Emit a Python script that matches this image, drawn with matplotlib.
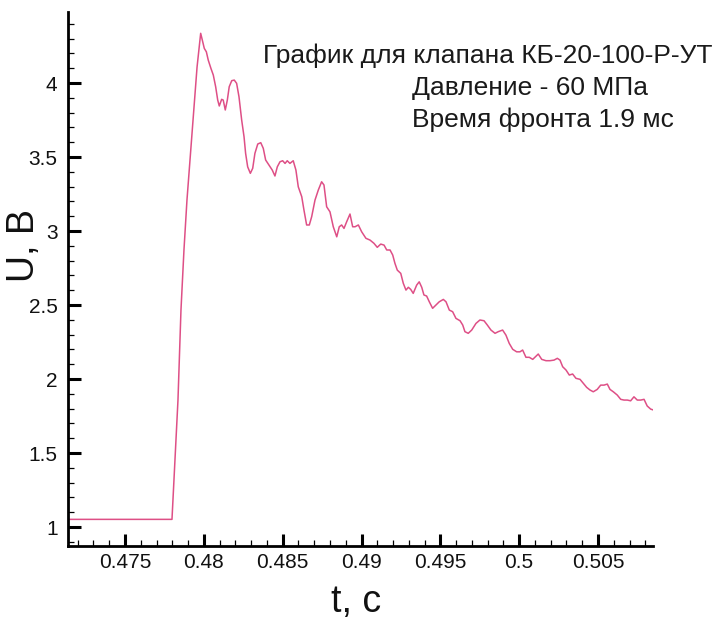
import matplotlib
matplotlib.use("Agg")
import matplotlib.pyplot as plt
from matplotlib.ticker import MultipleLocator, FuncFormatter

plt.rcParams['font.family'] = ['Liberation Sans', 'DejaVu Sans']

# --- data ---
t = [0.47139, 0.47798, 0.47817, 0.47836, 0.47855, 0.47874, 0.47893, 0.47925, 0.47957,
     0.47980, 0.47990, 0.48003, 0.48016, 0.48028, 0.48045, 0.48060, 0.48075, 0.48088,
     0.48098, 0.48113, 0.48123, 0.48136, 0.48149, 0.48161, 0.48177, 0.48193, 0.48208,
     0.48223, 0.48240, 0.48255, 0.48265, 0.48278, 0.48295, 0.48310, 0.48324, 0.48342,
     0.48361, 0.48377, 0.48392, 0.48413, 0.48434, 0.48451, 0.48466, 0.48483, 0.48500,
     0.48515, 0.48529, 0.48546, 0.48567, 0.48584, 0.48599, 0.48621, 0.48635, 0.48652,
     0.48669, 0.48684, 0.48705, 0.48726, 0.48747, 0.48762, 0.48779, 0.48800, 0.48821,
     0.48843, 0.48859, 0.48874, 0.48889, 0.48906, 0.48927, 0.48944, 0.48959, 0.48980,
     0.49001, 0.49028, 0.49054, 0.49079, 0.49100, 0.49122, 0.49143, 0.49160, 0.49181,
     0.49198, 0.49212, 0.49227, 0.49249, 0.49265, 0.49282, 0.49297, 0.49312, 0.49328,
     0.49350, 0.49366, 0.49382, 0.49396, 0.49413, 0.49430, 0.49451, 0.49472, 0.49493,
     0.49519, 0.49536, 0.49557, 0.49578, 0.49599, 0.49625, 0.49642, 0.49656, 0.49677,
     0.49699, 0.49726, 0.49751, 0.49777, 0.49798, 0.49821, 0.49847, 0.49867, 0.49895,
     0.49916, 0.49937, 0.49959, 0.49984, 0.50005, 0.50022, 0.50043, 0.50064, 0.50086,
     0.50100, 0.50121, 0.50143, 0.50170, 0.50195, 0.50221, 0.50242, 0.50259, 0.50276,
     0.50297, 0.50318, 0.50339, 0.50360, 0.50386, 0.50407, 0.50428, 0.50449, 0.50470,
     0.50495, 0.50517, 0.50538, 0.50559, 0.50576, 0.50597, 0.50622, 0.50644, 0.50665,
     0.50686, 0.50707, 0.50728, 0.50749, 0.50771, 0.50792, 0.50812, 0.50834, 0.50851]
U = [1.052, 1.052, 1.453, 1.858, 2.466, 2.872, 3.209, 3.662, 4.108,
     4.336, 4.291, 4.234, 4.211, 4.155, 4.099, 4.054, 3.975, 3.885,
     3.845, 3.890, 3.885, 3.818, 3.885, 3.975, 4.016, 4.020, 3.998,
     3.907, 3.750, 3.637, 3.525, 3.434, 3.390, 3.424, 3.525, 3.588,
     3.597, 3.559, 3.480, 3.446, 3.412, 3.372, 3.434, 3.468, 3.475,
     3.457, 3.475, 3.457, 3.475, 3.412, 3.299, 3.232, 3.142, 3.041,
     3.041, 3.097, 3.209, 3.277, 3.333, 3.311, 3.164, 3.130, 3.029,
     2.961, 3.029, 3.041, 3.018, 3.063, 3.115, 3.029, 3.029, 3.041,
     2.995, 2.951, 2.939, 2.917, 2.890, 2.912, 2.905, 2.872, 2.872,
     2.838, 2.782, 2.736, 2.714, 2.647, 2.601, 2.620, 2.606, 2.579,
     2.635, 2.657, 2.620, 2.568, 2.561, 2.522, 2.478, 2.500, 2.522,
     2.538, 2.522, 2.466, 2.455, 2.410, 2.394, 2.365, 2.320, 2.309,
     2.331, 2.376, 2.399, 2.394, 2.365, 2.331, 2.309, 2.320, 2.331,
     2.297, 2.241, 2.201, 2.184, 2.184, 2.196, 2.147, 2.147, 2.133,
     2.147, 2.169, 2.133, 2.124, 2.124, 2.128, 2.140, 2.128, 2.083,
     2.061, 2.027, 2.034, 2.005, 1.998, 1.971, 1.944, 1.926, 1.914,
     1.930, 1.959, 1.959, 1.966, 1.930, 1.914, 1.892, 1.863, 1.858,
     1.858, 1.853, 1.880, 1.858, 1.858, 1.863, 1.818, 1.797, 1.791]

x_ticks = [0.475, 0.48, 0.485, 0.49, 0.495, 0.5, 0.505]
y_ticks = [1, 1.5, 2, 2.5, 3, 3.5, 4]
x_label = "t, c"
y_label = "U, B"
info_lines = ["График для клапана КБ-20-100-Р-УТ",
              "Давление - 60 МПа",
              "Время фронта 1.9 мс"]

# --- figure ---
fig = plt.figure(figsize=(7.19, 6.19), dpi=100)
ax = fig.add_axes([68/719, 1-546/619, (653-68)/719, (546-12)/619])

ax.plot(t, U, color='#de4f86', linewidth=1.1)

ax.set_xlim(0.471385, 0.508488)
ax.set_ylim(0.872, 4.48)

for s in ['top', 'right']:
    ax.spines[s].set_visible(False)
for s in ['left', 'bottom']:
    ax.spines[s].set_linewidth(2.0)
    ax.spines[s].set_color('black')

ax.set_xticks(x_ticks)
ax.set_yticks(y_ticks)
ax.xaxis.set_minor_locator(MultipleLocator(0.001))
ax.yaxis.set_minor_locator(MultipleLocator(0.1))
fmt = FuncFormatter(lambda v, p: f"{v:g}")
ax.xaxis.set_major_formatter(fmt)
ax.yaxis.set_major_formatter(fmt)

ax.tick_params(which='major', direction='in', length=9, width=2.2, labelsize=15,
               color='black', labelcolor='#111111')
ax.tick_params(which='minor', direction='in', length=4.5, width=0.9, color='black')
ax.tick_params(axis='x', which='major', pad=5)
ax.tick_params(axis='y', which='major', pad=7.5)

ax.set_xlabel(x_label, fontsize=27, color='#111111')
ax.set_ylabel(y_label, fontsize=27, color='#111111')
ax.xaxis.set_label_coords(0.492, -0.071)
ax.yaxis.set_label_coords(-0.045, 0.563)

fig.text(263/719, 1-63/619, info_lines[0], fontsize=19, color='#1a1a1a',
         ha='left', va='baseline')
fig.text(412/719, 1-95/619, info_lines[1], fontsize=19, color='#1a1a1a',
         ha='left', va='baseline')
fig.text(412/719, 1-127/619, info_lines[2], fontsize=19, color='#1a1a1a',
         ha='left', va='baseline')

fig.savefig("out.png", dpi=100)
